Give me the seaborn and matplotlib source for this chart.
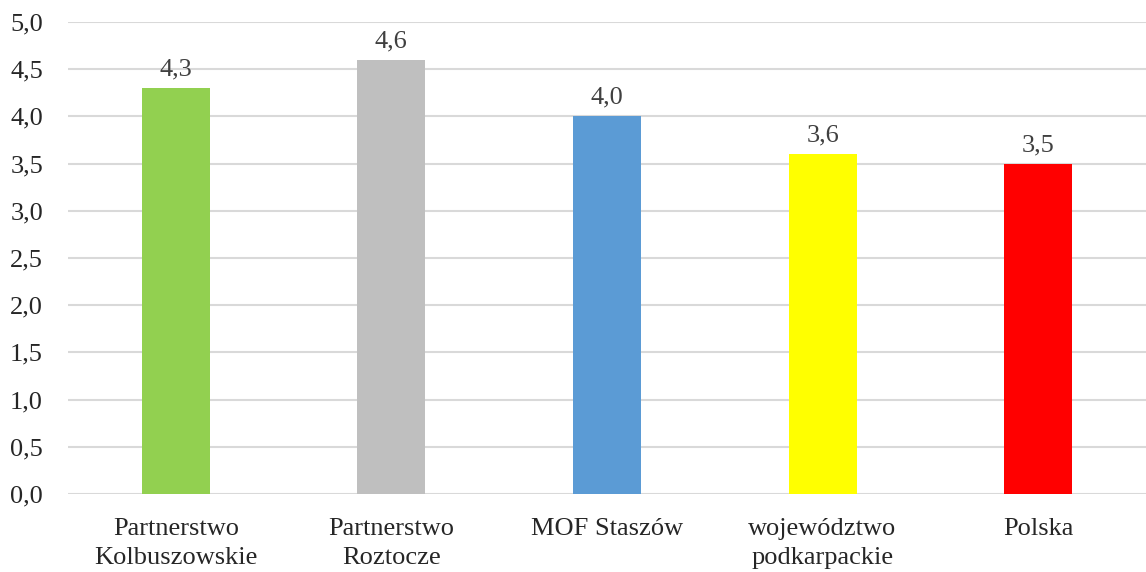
import numpy as np
import pandas as pd
import matplotlib
matplotlib.use("Agg")
import matplotlib.pyplot as plt
import seaborn as sns

# Dane do wykresu
kategorie = ["Partnerstwo\nKolbuszowskie", "Partnerstwo\nRoztocze", "MOF Staszów",
             "województwo\npodkarpackie", "Polska"]
wartosci = [4.3, 4.6, 4.0, 3.6, 3.5]
kolory = ["#92D050", "#BFBFBF", "#5B9BD5", "#FFFF00", "#FF0000"]
y_ticks = [0.0, 0.5, 1.0, 1.5, 2.0, 2.5, 3.0, 3.5, 4.0, 4.5, 5.0]

df = pd.DataFrame({"kategoria": kategorie, "wartosc": wartosci})

sns.set_style("white")
plt.rcParams["font.family"] = ["Liberation Serif", "DejaVu Serif"]

fig = plt.figure(figsize=(11.46, 5.72), dpi=100)
ax = fig.add_axes([0.0593, 0.1364, 0.9407, 0.8252])

sns.barplot(data=df, x="kategoria", y="wartosc", hue="kategoria", palette=kolory,
            width=0.315, legend=False, saturation=1, linewidth=0, ax=ax, zorder=3)

ax.set_ylim(0, 5)
ax.set_yticks(y_ticks)
ax.set_yticklabels([f"{v:.1f}".replace(".", ",") for v in y_ticks], fontsize=19)
ax.tick_params(axis="x", length=0, pad=17)
ax.tick_params(axis="y", length=0, pad=18)
for lab in ax.get_xticklabels():
    lab.set_fontsize(19)
    lab.set_linespacing(1.45)
ax.grid(axis="y", color="#D9D9D9", linewidth=1.5, zorder=0)
ax.set_axisbelow(True)
for s in ax.spines.values():
    s.set_visible(False)
ax.set_xlabel("")
ax.set_ylabel("")

# Etykiety danych
for i, v in enumerate(wartosci):
    ax.text(i, v + 0.08, f"{v:.1f}".replace(".", ","), ha="center", va="bottom",
            fontsize=19, color="#404040")

fig.savefig("out.png", dpi=100)
